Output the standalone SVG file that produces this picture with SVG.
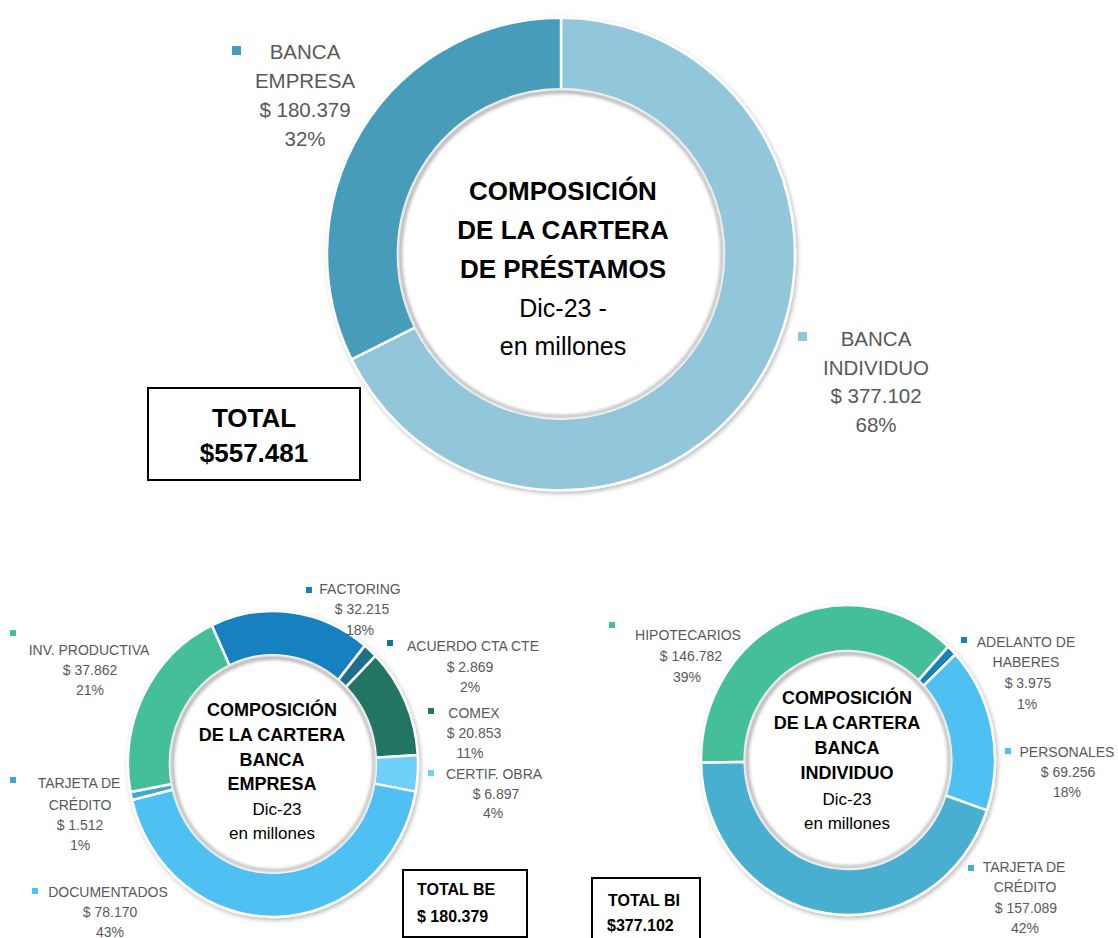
<svg xmlns="http://www.w3.org/2000/svg" width="1118" height="938" viewBox="0 0 1118 938">
<defs>
<filter id="sh" x="-15%" y="-15%" width="130%" height="130%"><feDropShadow dx="1.5" dy="2" stdDeviation="2" flood-color="#000" flood-opacity="0.28"/></filter>
<filter id="bl" x="-15%" y="-15%" width="130%" height="130%"><feGaussianBlur stdDeviation="1.5"/></filter>
</defs>
<style>
.seg{stroke:#fff;stroke-width:2.5;vector-effect:non-scaling-stroke}
.ish{fill:none;stroke:#bdbdbd;stroke-width:3;vector-effect:non-scaling-stroke}
.lg{font-family:"Liberation Sans",Arial,sans-serif;fill:#595959;text-anchor:middle}
.l20{font-size:20.5px}
.l14{font-size:14px}
.ct{font-family:"Liberation Sans",Arial,sans-serif;fill:#000;text-anchor:middle}
.b26{font-size:26px;font-weight:bold}
.n25{font-size:25px}
.b18{font-size:18px;font-weight:bold}
.n17{font-size:17px}
.box{fill:#fff;stroke:#000;stroke-width:2}
.tb{font-family:"Liberation Sans",Arial,sans-serif;fill:#000;font-weight:bold}
</style>
<rect width="1118" height="938" fill="#fff"/>

<!-- TOP CHART -->
<g id="chart-cartera" transform="translate(561,254) scale(1,1.01)">
<g filter="url(#sh)">
<path id="seg-banca-individuo" class="seg" fill="#92C6DB" d="M0 -234 A234 234 0 1 1 -209.5 104.3 L-145.9 72.7 A163 163 0 1 0 0 -163 Z"/>
<path id="seg-banca-empresa" class="seg" fill="#479DB9" d="M-209.5 104.3 A234 234 0 0 1 0 -234 L0 -163 A163 163 0 0 0 -145.9 72.7 Z"/>
</g>
<circle class="ish" r="161" filter="url(#bl)"/>
</g>
<g id="title-cartera" class="ct">
<text x="563" y="200" class="b26">COMPOSICIÓN</text>
<text x="563" y="239" class="b26">DE LA CARTERA</text>
<text x="563" y="278" class="b26">DE PRÉSTAMOS</text>
<text x="563" y="317" class="n25">Dic-23 -</text>
<text x="563" y="355" class="n25">en millones</text>
</g>
<g id="label-banca-empresa" class="lg l20">
<rect x="232" y="46" width="9" height="9" fill="#479DB9"/>
<text x="305" y="59">BANCA</text>
<text x="305" y="88">EMPRESA</text>
<text x="305" y="117">$ 180.379</text>
<text x="305" y="146">32%</text>
</g>
<g id="label-banca-individuo" class="lg l20">
<rect x="798" y="332" width="9" height="9" fill="#92C6DB"/>
<text x="876" y="346">BANCA</text>
<text x="876" y="375">INDIVIDUO</text>
<text x="876" y="403">$ 377.102</text>
<text x="876" y="432">68%</text>
</g>
<g id="total-cartera">
<rect class="box" x="148" y="388" width="212" height="92"/>
<text class="tb" x="254" y="427" font-size="26" text-anchor="middle">TOTAL</text>
<text class="tb" x="254" y="462" font-size="26" text-anchor="middle">$557.481</text>
</g>

<!-- BANCA EMPRESA CHART -->
<g id="chart-banca-empresa" transform="translate(273,764) scale(1,1.055)">
<g filter="url(#sh)">
<path id="seg-factoring" class="seg" fill="#1380C0" d="M-61.28 -131.41 A145 145 0 0 1 91.83 -112.21 L65.23 -79.71 A103 103 0 0 0 -43.53 -93.35 Z"/>
<path id="seg-acuerdo" class="seg" fill="#1F6F8E" d="M91.83 -112.21 A145 145 0 0 1 102.57 -102.49 L72.86 -72.81 A103 103 0 0 0 65.23 -79.71 Z"/>
<path id="seg-comex" class="seg" fill="#237463" d="M102.57 -102.49 A145 145 0 0 1 144.75 -8.50 L102.82 -6.03 A103 103 0 0 0 72.86 -72.81 Z"/>
<path id="seg-certif" class="seg" fill="#70CFF6" d="M144.75 -8.50 A145 145 0 0 1 142.61 26.19 L101.31 18.60 A103 103 0 0 0 102.82 -6.03 Z"/>
<path id="seg-documentados" class="seg" fill="#4FC0F2" d="M142.61 26.19 A145 145 0 0 1 -140.94 34.06 L-100.12 24.19 A103 103 0 0 0 101.31 18.60 Z"/>
<path id="seg-tarjeta-be" class="seg" fill="#3FA7CE" d="M-140.94 34.06 A145 145 0 0 1 -142.54 26.59 L-101.25 18.89 A103 103 0 0 0 -100.12 24.19 Z"/>
<path id="seg-inv-productiva" class="seg" fill="#45BF9B" d="M-142.54 26.59 A145 145 0 0 1 -61.28 -131.41 L-43.53 -93.35 A103 103 0 0 0 -101.25 18.89 Z"/>
</g>
<circle class="ish" r="101" filter="url(#bl)"/>
</g>
<g id="title-banca-empresa" class="ct">
<text x="272" y="716" class="b18">COMPOSICIÓN</text>
<text x="272" y="741" class="b18">DE LA CARTERA</text>
<text x="272" y="766" class="b18">BANCA</text>
<text x="272" y="790" class="b18">EMPRESA</text>
<text x="277" y="815" class="n17">Dic-23</text>
<text x="272" y="839" class="n17">en millones</text>
</g>
<g id="label-factoring" class="lg l14">
<rect x="306" y="587" width="6" height="6" fill="#1380C0"/>
<text x="360" y="594">FACTORING</text>
<text x="362" y="614">$ 32.215</text>
<text x="360" y="635">18%</text>
</g>
<g id="label-acuerdo" class="lg l14">
<rect x="387" y="640" width="6" height="6" fill="#1F6F8E"/>
<text x="473" y="651">ACUERDO CTA CTE</text>
<text x="470" y="672">$ 2.869</text>
<text x="470" y="692">2%</text>
</g>
<g id="label-comex" class="lg l14">
<rect x="428" y="708" width="6" height="6" fill="#237463"/>
<text x="474" y="718">COMEX</text>
<text x="474" y="738">$ 20.853</text>
<text x="470" y="758">11%</text>
</g>
<g id="label-certif" class="lg l14">
<rect x="428" y="770" width="6" height="6" fill="#70CFF6"/>
<text x="494" y="779">CERTIF. OBRA</text>
<text x="496" y="799">$ 6.897</text>
<text x="493" y="818">4%</text>
</g>
<g id="label-inv-productiva" class="lg l14">
<rect x="10" y="630" width="6" height="6" fill="#45BF9B"/>
<text x="89" y="655">INV. PRODUCTIVA</text>
<text x="90" y="675">$ 37.862</text>
<text x="90" y="695">21%</text>
</g>
<g id="label-tarjeta-be" class="lg l14">
<rect x="10" y="777" width="6" height="6" fill="#3FA7CE"/>
<text x="79" y="788">TARJETA DE</text>
<text x="80" y="810">CRÉDITO</text>
<text x="80" y="830">$ 1.512</text>
<text x="80" y="850">1%</text>
</g>
<g id="label-documentados" class="lg l14">
<rect x="32" y="888" width="6" height="6" fill="#4FC0F2"/>
<text x="108" y="897">DOCUMENTADOS</text>
<text x="110" y="917">$ 78.170</text>
<text x="110" y="937">43%</text>
</g>
<g id="total-be">
<rect class="box" x="403" y="870" width="124" height="67"/>
<text class="tb" x="417" y="895" font-size="16">TOTAL BE</text>
<text class="tb" x="417" y="922" font-size="16">$ 180.379</text>
</g>

<!-- BANCA INDIVIDUO CHART -->
<g id="chart-banca-individuo" transform="translate(848,760) scale(0.993,1.047)">
<g filter="url(#sh)">
<path id="seg-hipotecarios" class="seg" fill="#45BF9B" d="M-147.98 2.58 A148 148 0 0 1 100.94 -108.24 L70.93 -76.06 A104 104 0 0 0 -103.98 1.81 Z"/>
<path id="seg-adelanto" class="seg" fill="#1380C0" d="M100.94 -108.24 A148 148 0 0 1 108.24 -100.94 L76.06 -70.93 A104 104 0 0 0 70.93 -76.06 Z"/>
<path id="seg-personales" class="seg" fill="#4FC0F2" d="M108.24 -100.94 A148 148 0 0 1 139.94 48.18 L98.33 33.86 A104 104 0 0 0 76.06 -70.93 Z"/>
<path id="seg-tarjeta-bi" class="seg" fill="#4AAFD0" d="M139.94 48.18 A148 148 0 0 1 -147.98 2.58 L-103.98 1.81 A104 104 0 0 0 98.33 33.86 Z"/>
</g>
<circle class="ish" r="102" filter="url(#bl)"/>
</g>
<g id="title-banca-individuo" class="ct">
<text x="847" y="704" class="b18">COMPOSICIÓN</text>
<text x="847" y="729" class="b18">DE LA CARTERA</text>
<text x="847" y="754" class="b18">BANCA</text>
<text x="847" y="779" class="b18">INDIVIDUO</text>
<text x="847" y="805" class="n17">Dic-23</text>
<text x="847" y="829" class="n17">en millones</text>
</g>
<g id="label-hipotecarios" class="lg l14">
<rect x="609" y="622" width="6" height="6" fill="#45BF9B"/>
<text x="688" y="640">HIPOTECARIOS</text>
<text x="691" y="661">$ 146.782</text>
<text x="687" y="682">39%</text>
</g>
<g id="label-adelanto" class="lg l14">
<rect x="961" y="637" width="6" height="6" fill="#1380C0"/>
<text x="1026" y="647">ADELANTO DE</text>
<text x="1026" y="667">HABERES</text>
<text x="1028" y="688">$ 3.975</text>
<text x="1027" y="709">1%</text>
</g>
<g id="label-personales" class="lg l14">
<rect x="1005" y="748" width="6" height="6" fill="#4FC0F2"/>
<text x="1067" y="757">PERSONALES</text>
<text x="1068" y="777">$ 69.256</text>
<text x="1067" y="797">18%</text>
</g>
<g id="label-tarjeta-bi" class="lg l14">
<rect x="968" y="865" width="6" height="6" fill="#4AAFD0"/>
<text x="1024" y="872">TARJETA DE</text>
<text x="1025" y="892">CRÉDITO</text>
<text x="1026" y="913">$ 157.089</text>
<text x="1025" y="933">42%</text>
</g>
<g id="total-bi">
<rect class="box" x="592" y="878" width="108" height="70"/>
<text class="tb" x="608" y="906" font-size="16">TOTAL BI</text>
<text class="tb" x="607" y="931" font-size="16">$377.102</text>
</g>
</svg>
